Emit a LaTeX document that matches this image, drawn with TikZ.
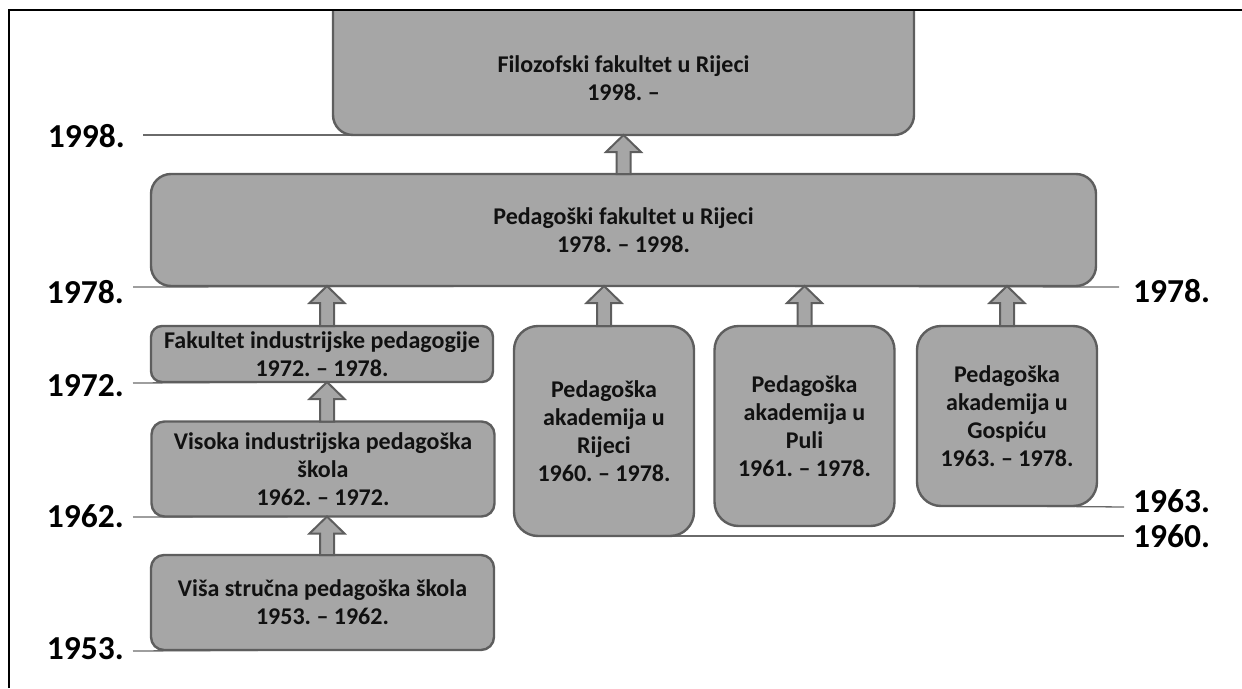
\documentclass[tikz,border=0pt]{standalone}
\usepackage{fontspec}
\setmainfont{Carlito}
\usetikzlibrary{calc,backgrounds}
\definecolor{boxfill}{HTML}{A6A6A6}
\definecolor{boxline}{HTML}{5E5E5E}
\definecolor{yline}{HTML}{6A6A6A}
\definecolor{txt}{HTML}{111111}
\frenchspacing
\newcommand\blockarrow[2]{\draw[barrow] let \p1=#1, \p2=#2 in
  (\x1-7pt,\y1) -- (\x1-7pt,\y2-17pt) -- (\x1-17.5pt,\y2-17pt) -- (\x1,\y2) --
  (\x1+17.5pt,\y2-17pt) -- (\x1+7pt,\y2-17pt) -- (\x1+7pt,\y1) -- cycle;}
\begin{document}
\begin{tikzpicture}[x=1pt,y=-1pt,
  box/.style={draw=boxline, fill=boxfill, line width=2.4pt, outer sep=0pt, inner sep=0pt,
    align=center, text=txt, font=\fontsize{24}{28}\selectfont\bfseries\frenchspacing},
  boxtext/.style={inner sep=0pt, align=center, text=txt, font=\fontsize{24}{28}\selectfont\bfseries\frenchspacing},
  year/.style={inner sep=0pt, text=black, font=\fontsize{33.5}{36}\selectfont\bfseries},
  yearline/.style={draw=yline, line width=1.3pt},
  barrow/.style={draw=boxline, fill=boxfill, line width=2pt, line join=miter},
  frameline/.style={draw=black, line width=2pt}]
\useasboundingbox (0,0) rectangle (1242,688);

% boxes
\begin{scope}
  \clip (0,10) rectangle (1242,688);
  \node[box, rounded corners=20pt, minimum width=581pt, minimum height=175pt] (filo) at (623.5,47.5) {};
\end{scope}
\node[boxtext] (filot) at (623.5,78) {Filozofski fakultet u Rijeci\\1998. –};
\node[box, rounded corners=20pt, minimum width=945pt, minimum height=112pt] (ped) at (623.5,230)
  {Pedagoški fakultet u Rijeci\\1978. – 1998.};
\node[box, rounded corners=11pt, minimum width=342pt, minimum height=56pt] (fak) at (322,354)
  {Fakultet industrijske pedagogije\\1972. – 1978.};
\node[box, rounded corners=13pt, minimum width=343pt, minimum height=95pt] (vis) at (323,469)
  {Visoka industrijska pedagoška\\škola\\1962. – 1972.};
\node[box, rounded corners=13pt, minimum width=343pt, minimum height=95pt] (visa) at (322.5,602.5)
  {Viša stručna pedagoška škola\\1953. – 1962.};
\node[box, rounded corners=24pt, minimum width=180pt, minimum height=210pt] (rij) at (604,431)
  {Pedagoška\\akademija u\\Rijeci\\1960. – 1978.};
\node[box, rounded corners=24pt, minimum width=180pt, minimum height=200pt] (puli) at (804.5,426)
  {Pedagoška\\akademija u\\Puli\\1961. – 1978.};
\node[box, rounded corners=24pt, minimum width=180pt, minimum height=180pt] (gos) at (1007,416)
  {Pedagoška\\akademija u\\Gospiću\\1963. – 1978.};

% year labels
\node[year, anchor=east] (l1998) at (125,136) {1998.};
\node[year, anchor=east] (l1978) at (124,292) {1978.};
\node[year, anchor=east] (l1972) at (124,386) {1972.};
\node[year, anchor=east] (l1962) at (124,516) {1962.};
\node[year, anchor=east] (l1953) at (124,649) {1953.};
\node[year, anchor=west] (r1978) at (1133,291) {1978.};
\node[year, anchor=west] (r1963) at (1133,501) {1963.};
\node[year, anchor=west] (r1960) at (1133,536) {1960.};

\coordinate (e1998) at (143,135);
\coordinate (e1978l) at (133,287);
\coordinate (e1972) at (133,383);
\coordinate (e1962) at (133,517);
\coordinate (e1953) at (133,651);
\coordinate (e1978r) at (1119,287);
\coordinate (e1963) at (1124,507);
\coordinate (e1960) at (1124,536);

\begin{scope}[on background layer]
  \draw[yearline] (e1998) -- (filo.south);
  \draw[yearline] (e1978l) -- (ped.south) -- (e1978r);
  \draw[yearline] (e1972) -- (fak.south);
  \draw[yearline] (e1962) -- (vis.south);
  \draw[yearline] (e1953) -- (visa.south);
  \draw[yearline] (gos.south) -- (e1963);
  \draw[yearline] (rij.south) -- (e1960);
\end{scope}

% block arrows
\blockarrow{(ped.north)}{(filo.south)}
\blockarrow{([xshift=5pt]fak.north)}{(ped.south)}
\blockarrow{([xshift=4pt]vis.north)}{(fak.south)}
\blockarrow{([xshift=4.5pt]visa.north)}{(vis.south)}
\blockarrow{(rij.north)}{(ped.south)}
\blockarrow{(puli.north)}{(ped.south)}
\blockarrow{(gos.north)}{(ped.south)}

% frame
\draw[frameline] (9,688) -- (9,10) -- (1242,10);
\end{tikzpicture}
\end{document}
